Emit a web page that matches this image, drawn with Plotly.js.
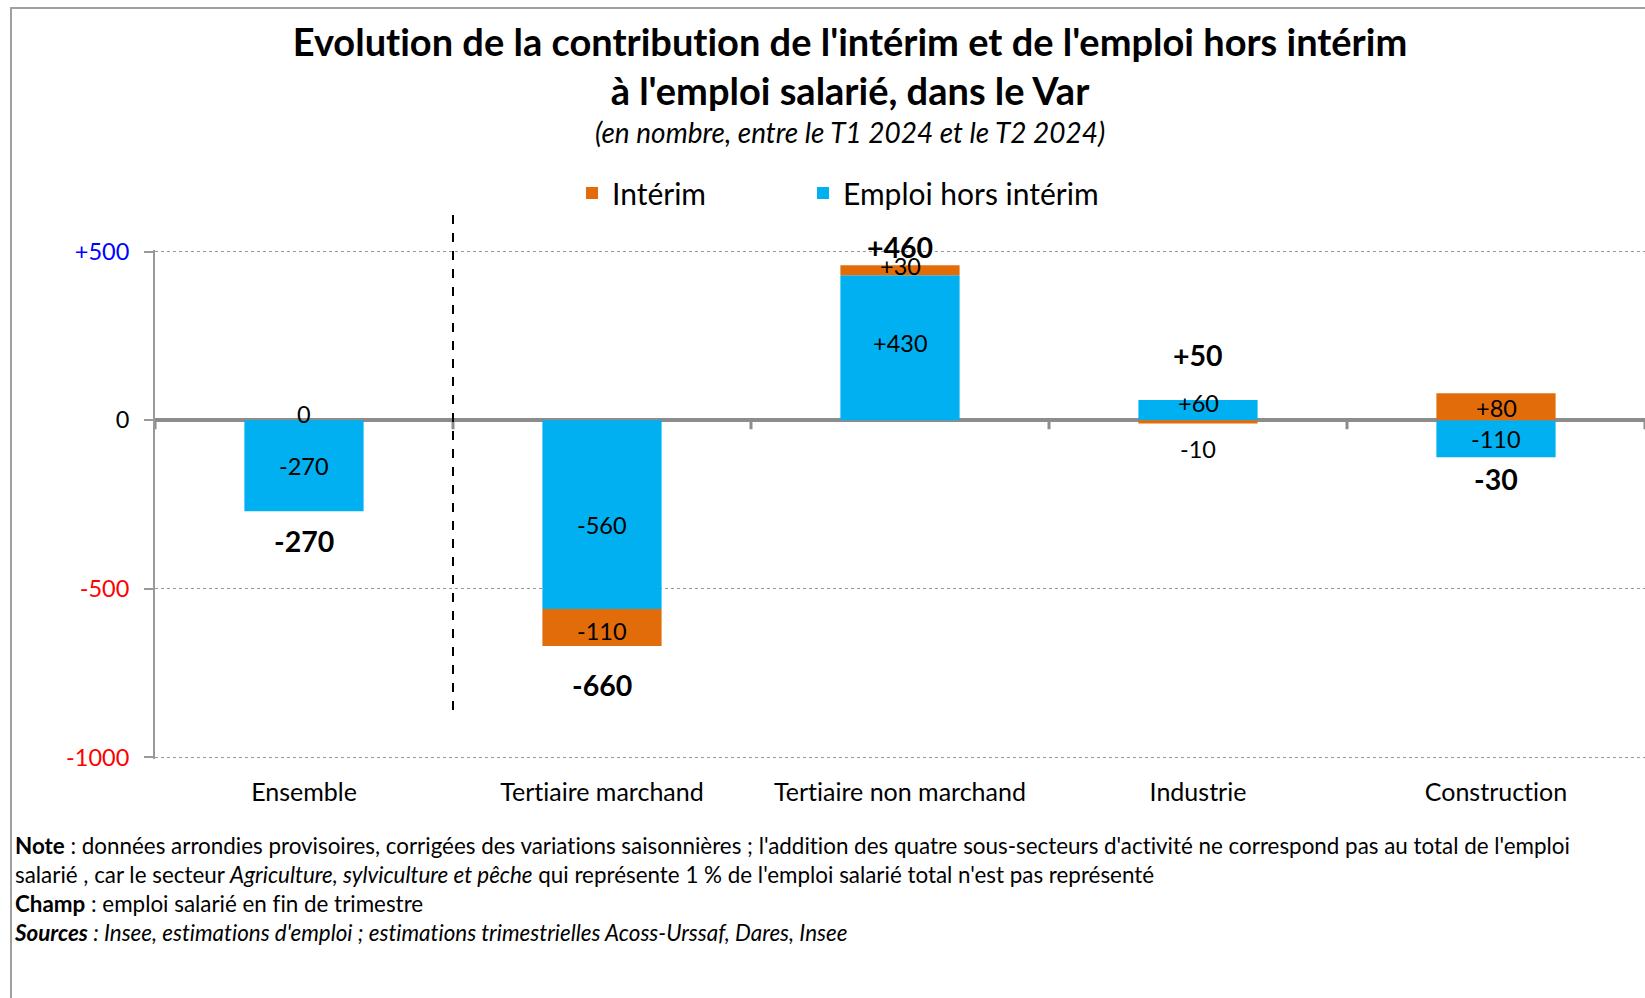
<!DOCTYPE html>
<html>
<head>
<meta charset="utf-8">
<script src="https://cdn.plot.ly/plotly-3.0.1.min.js"></script>
<style>
  html, body { margin: 0; padding: 0; background: #fff; }
  #chart { width: 1645px; height: 998px; }
  #chart text { font-variant-ligatures: none; font-feature-settings: "liga" 0, "clig" 0; }
</style>
</head>
<body>
<div id="chart"></div>
<script>
// ---- Data ----
const categories = ['Ensemble', 'Tertiaire marchand', 'Tertiaire non marchand', 'Industrie', 'Construction'];
const horsInterim = [-270, -560, 430, 60, -110];
const interim = [0, -110, 30, -10, 80];
const totals = [-270, -660, 460, 50, -30];
const yTickVals = [-1000, -500, 0, 500];
const yTickText = ['-1000', '-500', '0', '+500'];
const yTickColors = ['#FF0000', '#FF0000', '#000000', '#0000FF'];

// ---- Geometry helpers (plot area in pixels) ----
const W = 1645, H = 998;
const PL = 155, PR = 1645, PT = 250, PB = 759;
const px2x = p => (p - PL) / (PR - PL);
const px2y = p => (PB - p) / (PB - PT);

const FONT = 'Lato, "Open Sans", "DejaVu Sans", sans-serif';
const BLUE = '#00B0F0';
const ORANGE = '#E36C0A';

const fmt = v => (v > 0 ? '+' + v : String(v));

const traces = [
  {
    type: 'bar', name: 'Emploi hors intérim', x: categories, y: horsInterim,
    marker: { color: BLUE, line: { width: 0 } }, legend: 'legend2', hoverinfo: 'skip'
  },
  {
    type: 'bar', name: 'Intérim', x: categories, y: interim,
    marker: { color: ORANGE, line: { width: 0 } }, legend: 'legend', hoverinfo: 'skip'
  }
];

// replicate relative stacking to place segment labels at segment midpoints
const annotations = [];
const segShift = [
  [0, -10, 5, 7, 0],     // hors intérim label vertical nudges (px)
  [6, -3, 4, -27, -1]    // intérim label vertical nudges (px)
];
const posBase = categories.map(() => 0);
const negBase = categories.map(() => 0);
[horsInterim, interim].forEach((series, s) => {
  series.forEach((v, i) => {
    let start;
    if (v >= 0) { start = posBase[i]; posBase[i] += v; }
    else { start = negBase[i]; negBase[i] += v; }
    annotations.push({
      x: categories[i], y: start + v / 2, xref: 'x', yref: 'y',
      text: fmt(v), showarrow: false, yshift: segShift[s][i],
      font: { family: FONT, size: 23.5, color: '#000' }
    });
  });
});

// totals, bold, outside the stack (offset of label centre from stack end, px)
const totalGap = [30, 39, 18, 45, 22];
totals.forEach((t, i) => {
  const neg = t < 0;
  annotations.push({
    x: categories[i], y: neg ? negBase[i] : posBase[i], xref: 'x', yref: 'y',
    text: '<b>' + fmt(t) + '</b>', showarrow: false,
    yanchor: 'middle',
    yshift: neg ? -totalGap[i] : totalGap[i],
    font: { family: FONT, size: 28.5, color: '#000' }
  });
});

// subtitle
annotations.push({
  xref: 'paper', yref: 'paper', x: px2x(850), y: px2y(132),
  xanchor: 'center', yanchor: 'middle', showarrow: false,
  text: '<i>(en nombre, entre le T1 2024 et le T2 2024)</i>',
  font: { family: FONT, size: 28, color: '#000' }
});

// footnote
annotations.push({
  xref: 'paper', yref: 'paper', x: px2x(12), y: px2y(830),
  xanchor: 'left', yanchor: 'top', align: 'left', showarrow: false,
  text: "<b>Note</b> : données arrondies provisoires, corrigées des variations saisonnières ; l'addition des quatre sous-secteurs d'activité ne correspond pas au total de l'emploi" +
        "<br>salarié , car le secteur <i>Agriculture, sylviculture et pêche</i> qui représente 1 % de l'emploi salarié total n'est pas représenté" +
        "<br><b>Champ</b> : emploi salarié en fin de trimestre" +
        "<br><b><i>Sources</i></b><i> : Insee, estimations d'emploi ; estimations trimestrielles Acoss-Urssaf, Dares, Insee</i>",
  font: { family: FONT, size: 22.4, color: '#000' }
});

// shapes: category boundary ticks on the zero line, dashed separator, frame
const shapes = [];
for (let i = 0; i <= categories.length; i++) {
  shapes.push({
    type: 'line', xref: 'x', yref: 'y', ysizemode: 'pixel', yanchor: 0,
    x0: i - 0.5, x1: i - 0.5, y0: 0, y1: -9,
    line: { color: '#8c8c8c', width: 3 }
  });
}
shapes.push({
  type: 'line', xref: 'x', yref: 'paper', x0: 0.5, x1: 0.5,
  y0: px2y(215), y1: px2y(712),
  line: { color: '#000', width: 2, dash: 'dash' }
});
shapes.push({
  type: 'rect', xref: 'paper', yref: 'paper',
  x0: px2x(11), x1: px2x(1720), y0: px2y(8), y1: px2y(1060),
  line: { color: '#A0A0A0', width: 2 }, fillcolor: 'rgba(0,0,0,0)'
});

const legendCommon = {
  orientation: 'h', xanchor: 'left', yanchor: 'middle', y: px2y(193),
  font: { family: FONT, size: 30, color: '#000' }, bgcolor: 'rgba(0,0,0,0)'
};

const layout = {
  width: W, height: H,
  margin: { l: PL, r: W - PR, t: PT, b: H - PB, pad: 0 },
  paper_bgcolor: '#fff', plot_bgcolor: '#fff',
  font: { family: FONT, color: '#000' },
  barmode: 'relative', bargap: 0.6,
  showlegend: true,
  hovermode: false,
  title: {
    text: "<b>Evolution de la contribution de l'intérim et de l'emploi hors intérim</b><br><b>à l'emploi salarié, dans le Var</b>",
    font: { family: FONT, size: 38, color: '#000' },
    xref: 'container', yref: 'container',
    x: 850 / W, xanchor: 'center',
    y: 1 - 56 / H, yanchor: 'middle'
  },
  legend: Object.assign({}, legendCommon, { x: px2x(572) }),
  legend2: Object.assign({}, legendCommon, { x: px2x(803) }),
  xaxis: {
    type: 'category', range: [-0.5, categories.length - 0.5],
    showline: false, showgrid: false, zeroline: false, ticks: '',
    tickfont: { family: FONT, size: 25, color: '#000' },
    ticklabelstandoff: 16, fixedrange: true
  },
  yaxis: {
    range: [-1005, 505],
    tickvals: yTickVals,
    ticktext: yTickText.map((t, i) => '<span style="color:' + yTickColors[i] + '">' + t + '</span>'),
    tickfont: { family: FONT, size: 23.5 },
    showline: true, linecolor: '#999', linewidth: 2,
    ticks: 'outside', ticklen: 9, tickcolor: '#999', tickwidth: 2,
    ticklabelstandoff: 10,
    showgrid: true, gridcolor: '#999', gridwidth: 1, griddash: 'dot',
    zeroline: true, zerolinecolor: '#8c8c8c', zerolinewidth: 4,
    fixedrange: true
  },
  annotations: annotations,
  shapes: shapes
};

Plotly.newPlot('chart', traces, layout, { displayModeBar: false, staticPlot: true });
</script>
</body>
</html>
